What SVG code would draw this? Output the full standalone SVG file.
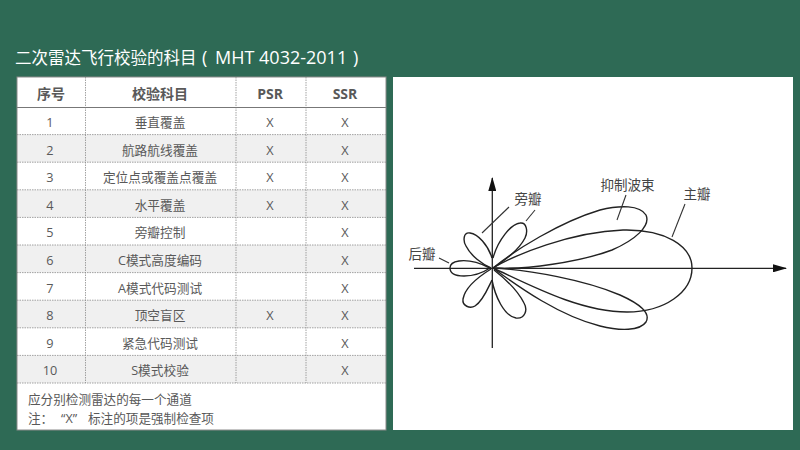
<svg xmlns="http://www.w3.org/2000/svg" width="800" height="450" viewBox="0 0 800 450">
<style>
text{font-family:"Open Sans","Noto Sans CJK SC",sans-serif;fill:#595959;text-anchor:middle}
.t{font-size:12.700px}
.h{font-size:14px;font-weight:700}
.n{font-size:12.600px;text-anchor:start}
.title{font-size:16.500px;fill:#fff;text-anchor:start}
.lat{font-size:18px}
.l{font-size:13.500px;fill:#444}
.g{fill:#f0f0f0}
.d{stroke:#8c8c8c;stroke-width:.8;stroke-dasharray:1.5 1;fill:none}
.c{fill:none;stroke:#222;stroke-width:1.4}
.a{fill:none;stroke:#222;stroke-width:1.3}
</style>
<defs>
<marker id="arr" markerWidth="14" markerHeight="8" refX="13" refY="4" orient="auto" markerUnits="userSpaceOnUse"><path d="M0 0L14 4L0 8Z" fill="#111"/></marker>
</defs>
<rect width="800" height="450" fill="#2e6a55"/>
<text class="title" x="15" y="64">二次雷达飞行校验的科目</text>
<text class="title lat" x="202" y="64">(</text>
<text class="title lat" x="215" y="64">MHT 4032-2011</text>
<text class="title lat" x="353" y="64">)</text>

<g id="table">
<rect x="17" y="77" width="369" height="353" fill="#fff"/>
<rect class="g" x="17" y="134.600" width="369" height="27.600"/>
<rect class="g" x="17" y="189.800" width="369" height="27.600"/>
<rect class="g" x="17" y="245" width="369" height="27.600"/>
<rect class="g" x="17" y="300.200" width="369" height="27.600"/>
<rect class="g" x="17" y="355.400" width="369" height="27.600"/>
<path class="d" d="M85.500 77V383M236 77V383M306 77V383M17 134.600H386M17 162.200H386M17 189.800H386M17 217.400H386M17 245H386M17 272.600H386M17 300.200H386M17 327.800H386M17 355.400H386M17 383H386"/>
<path d="M17 107.500H386" stroke="#777" stroke-width="1.2"/>
<rect x="17" y="77" width="369" height="353" fill="none" stroke="#8a8a8a" stroke-width="1"/>
<text class="h" x="51" y="99">序号</text><text class="h" x="160" y="99">校验科目</text><text class="h" x="270" y="99">PSR</text><text class="h" x="345" y="99">SSR</text>
<text class="t" x="50" y="127">1</text><text class="t" x="160" y="127">垂直覆盖</text><text class="t" x="270" y="127">X</text><text class="t" x="345" y="127">X</text>
<text class="t" x="50" y="154.500">2</text><text class="t" x="160" y="154.500">航路航线覆盖</text><text class="t" x="270" y="154.500">X</text><text class="t" x="345" y="154.500">X</text>
<text class="t" x="50" y="182">3</text><text class="t" x="160" y="182">定位点或覆盖点覆盖</text><text class="t" x="270" y="182">X</text><text class="t" x="345" y="182">X</text>
<text class="t" x="50" y="209.500">4</text><text class="t" x="160" y="209.500">水平覆盖</text><text class="t" x="270" y="209.500">X</text><text class="t" x="345" y="209.500">X</text>
<text class="t" x="50" y="237">5</text><text class="t" x="160" y="237">旁瓣控制</text><text class="t" x="345" y="237">X</text>
<text class="t" x="50" y="265">6</text><text class="t" x="160" y="265">C模式高度编码</text><text class="t" x="345" y="265">X</text>
<text class="t" x="50" y="292.500">7</text><text class="t" x="160" y="292.500">A模式代码测试</text><text class="t" x="345" y="292.500">X</text>
<text class="t" x="50" y="320">8</text><text class="t" x="160" y="320">顶空盲区</text><text class="t" x="270" y="320">X</text><text class="t" x="345" y="320">X</text>
<text class="t" x="50" y="347.500">9</text><text class="t" x="160" y="347.500">紧急代码测试</text><text class="t" x="345" y="347.500">X</text>
<text class="t" x="50" y="375">10</text><text class="t" x="160" y="375">S模式校验</text><text class="t" x="345" y="375">X</text>
<text class="n" x="28" y="403.500">应分别检测雷达的每一个通道</text>
<text class="n" x="28" y="423">注：</text>
<text class="n" x="61" y="423">“X”</text>
<text class="n" x="88" y="423">标注的项是强制检查项</text>
</g>

<rect x="393" y="77" width="400" height="353" fill="#fff"/>
<g id="axes">
<path class="a" d="M492.300 348V178" marker-end="url(#arr)"/>
<path class="a" d="M414 268.300H786" marker-end="url(#arr)"/>
</g>
<g id="lobes">
<path class="c" d="M490 268C478 262 466 260 459 261C452 262 450 265 450 268C450 273 455 276 464 276C474 276 484 272 490 268"/>
<path class="c" d="M492 258C488 245 478 234 470 233C463 232 463 241 466 246C471 256 482 264 491 268"/>
<path class="c" d="M493 258C498 240 511 224 520 223C527 222 528 232 525 238C519 250 503 262 493 268"/>
<path class="c" d="M491 269C478 277 465 288 463 299C462 306 470 309 475 306C483 301 488 288 492 280"/>
<path class="c" d="M492 280C495 296 504 316 516 318C525 319 528 310 524 303C517 289 503 277 494 270"/>
<path class="c" d="M493 268C515 250 560 222 600 210C620 205 640 205 646 215C651 226 635 240 612 250C580 262 525 270 493 268"/>
<path class="c" d="M493 268C515 255 570 232 623 230C665 229 692 246 692 268C692 292 665 312 627 312C580 312 530 285 493 268"/>
<path class="c" d="M493 268C530 270 585 280 620 295C640 304 651 313 646 322C640 331 620 331 600 326C560 316 520 288 493 268"/>
</g>
<g id="leaders" stroke="#333" stroke-width="1.1" fill="none">
<path d="M509 207L482 233"/><path d="M535 210L526 221"/><path d="M439 258L449 263"/><path d="M626 195L617 220"/><path d="M685 204L672 237"/>
</g>
<g id="labels">
<text class="l" x="528" y="204">旁瓣</text>
<text class="l" x="422" y="259">后瓣</text>
<text class="l" x="627.500" y="190">抑制波束</text>
<text class="l" x="697" y="199">主瓣</text>
</g>
</svg>
